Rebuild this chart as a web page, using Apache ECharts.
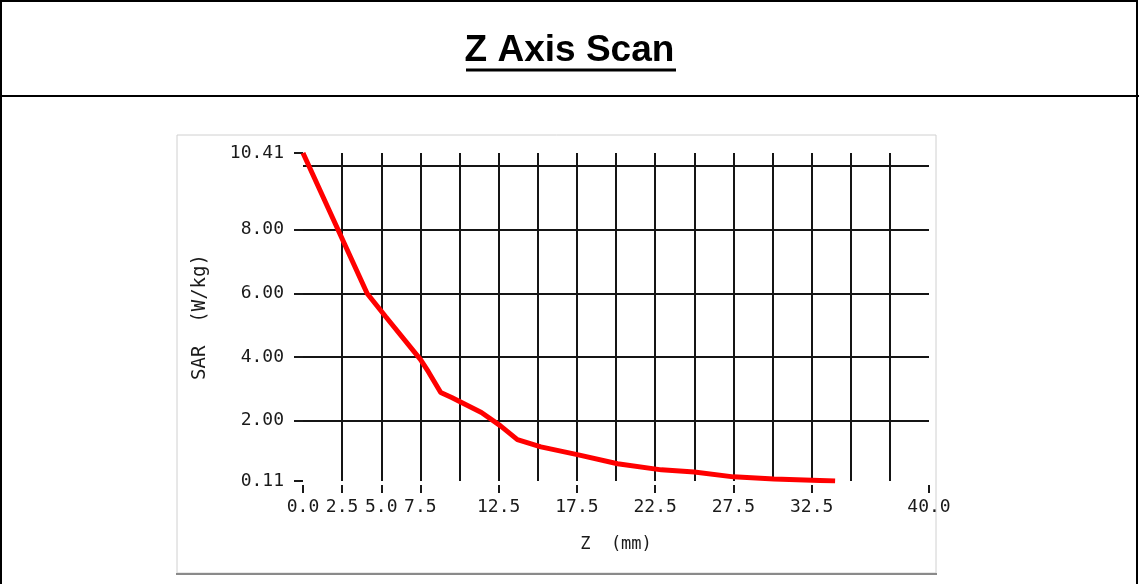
<!DOCTYPE html>
<html>
<head>
<meta charset="utf-8">
<script src="https://cdn.jsdelivr.net/npm/echarts@6/dist/echarts.min.js"></script>
<style>
html,body{margin:0;padding:0;background:#fff;}
#chart{width:1139px;height:584px;}
</style>
</head>
<body>
<div id="chart"></div>
<script>
// ---- data ----
var zValues = [0, 4.1, 5.3, 7.5, 8.0, 8.8, 9.5, 11.4, 12.6, 13.7, 15.2, 17.6, 20.1, 22.9, 25.0, 27.5, 30.1, 34.0];
var sarValues = [10.41, 6.0, 5.26, 3.93, 3.55, 2.89, 2.73, 2.26, 1.85, 1.41, 1.18, 0.93, 0.65, 0.46, 0.39, 0.24, 0.17, 0.11];
var xTickLabels = [0, 2.5, 5, 7.5, 12.5, 17.5, 22.5, 27.5, 32.5, 40];
var yTickLabels = [0.11, 2, 4, 6, 8, 10.41];
var xGridLines = [2.5, 5, 7.5, 10, 12.5, 15, 17.5, 20, 22.5, 25, 27.5, 30, 32.5, 35, 37.5];
var yGridLines = [2, 4, 6, 8, 10];
var chartTitle = 'Z Axis Scan';
var xName = 'Z  (mm)';
var yName = 'SAR  (W/kg)';

var seriesData = zValues.map(function (z, i) { return [z, sarValues[i]]; });
var markData = xGridLines.map(function (v) { return { xAxis: v }; })
  .concat(yGridLines.map(function (v) { return { yAxis: v }; }));

var chart = echarts.init(document.getElementById('chart'), null, { renderer: 'canvas' });
var monoFont = '"DejaVu Sans Mono", "Liberation Mono", monospace';

chart.setOption({
  animation: false,
  backgroundColor: '#ffffff',
  title: {
    text: chartTitle,
    left: 'center',
    top: 27,
    textStyle: { fontFamily: '"Liberation Sans", Arial, sans-serif', fontWeight: 'bold', fontSize: 37, color: '#000' }
  },
  graphic: [
    { type: 'rect', silent: true, z: 0, shape: { x: 177, y: 135, width: 759, height: 438 }, style: { fill: '#ffffff', stroke: '#d0d0d0', lineWidth: 1 } },
    { type: 'line', silent: true, z: 1, shape: { x1: 176, y1: 574, x2: 937, y2: 574 }, style: { stroke: '#8a8a8a', lineWidth: 2 } },
    { type: 'rect', silent: true, z: 10, shape: { x: 1, y: 1, width: 1136, height: 640 }, style: { fill: null, stroke: '#000', lineWidth: 2 } },
    { type: 'line', silent: true, z: 10, shape: { x1: 0, y1: 96, x2: 1139, y2: 96 }, style: { stroke: '#000', lineWidth: 2 } },
    { type: 'line', silent: true, z: 10, shape: { x1: 466, y1: 70, x2: 676, y2: 70 }, style: { stroke: '#000', lineWidth: 3 } }
  ],
  grid: {
    left: 303, top: 153, width: 626, height: 328,
    show: true, backgroundColor: '#dedede', borderWidth: 0
  },
  xAxis: {
    type: 'value', min: 0, max: 40,
    offset: 4,
    name: xName, nameLocation: 'middle', nameGap: 51,
    nameTextStyle: { fontFamily: monoFont, fontSize: 17, color: '#1a1a1a' },
    axisLine: { show: false },
    splitLine: { show: false },
    axisTick: { show: true, customValues: xTickLabels, length: 8, lineStyle: { color: '#1a1a1a', width: 2 } },
    axisLabel: {
      customValues: xTickLabels, margin: 13, color: '#1a1a1a',
      fontFamily: monoFont, fontSize: 18,
      formatter: function (v) { return Number(v).toFixed(1); }
    }
  },
  yAxis: {
    type: 'value', min: 0.11, max: 10.41,
    offset: 5,
    name: yName, nameLocation: 'middle', nameGap: 88, nameRotate: 90,
    nameTextStyle: { fontFamily: monoFont, fontSize: 19, color: '#1a1a1a' },
    axisLine: { show: false },
    splitLine: { show: false },
    axisTick: { show: true, customValues: yTickLabels, length: 9, lineStyle: { color: '#1a1a1a', width: 2 } },
    axisLabel: {
      customValues: yTickLabels, margin: 14, color: '#1a1a1a',
      fontFamily: monoFont, fontSize: 18,
      formatter: function (v) { return Number(v).toFixed(2); }
    }
  },
  series: [{
    type: 'line',
    data: seriesData,
    showSymbol: false,
    symbol: 'none',
    z: 3,
    lineStyle: { color: '#ff0000', width: 5 },
    markLine: {
      silent: true, z: 1,
      symbol: ['none', 'none'],
      label: { show: false },
      lineStyle: { type: 'solid', color: '#151515', width: 2 },
      data: markData
    }
  }]
});
</script>
</body>
</html>
